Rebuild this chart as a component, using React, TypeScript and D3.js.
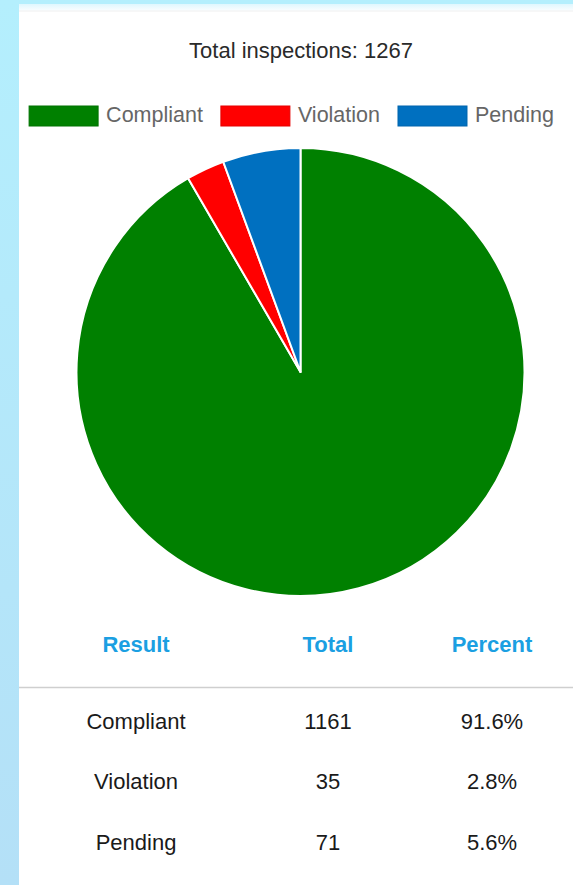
import { useEffect, useRef } from "react";
import * as d3 from "d3";

const results = ["Compliant", "Violation", "Pending"];
const totals = [1161, 35, 71];
const sliceColors = ["#008000", "#ff0000", "#0070c0"];
const tableHeaders = ["Result", "Total", "Percent"];

const W = 573;
const H = 885;
const FONT = "'Liberation Sans', Arial, sans-serif";

export default function App() {
  const ref = useRef<SVGSVGElement>(null);

  useEffect(() => {
    if (!ref.current) return;
    const svg = d3.select(ref.current);
    svg.selectAll("*").remove();

    const sum = d3.sum(totals);

    // background + card
    const defs = svg.append("defs");
    const grad = defs
      .append("linearGradient")
      .attr("id", "bg")
      .attr("x1", 0)
      .attr("y1", 0)
      .attr("x2", 0)
      .attr("y2", 1);
    grad.append("stop").attr("offset", "0%").attr("stop-color", "#b4effd");
    grad.append("stop").attr("offset", "100%").attr("stop-color", "#b4e0f7");
    const edge = defs
      .append("linearGradient")
      .attr("id", "edge")
      .attr("x1", 0)
      .attr("y1", 0)
      .attr("x2", 0)
      .attr("y2", 1);
    edge.append("stop").attr("offset", "0%").attr("stop-color", "#dff7fe");
    edge.append("stop").attr("offset", "100%").attr("stop-color", "#fbfeff");
    svg.append("rect").attr("width", W).attr("height", H).attr("fill", "url(#bg)");
    svg.append("rect").attr("x", 19).attr("y", 4).attr("width", W - 19).attr("height", H - 4).attr("fill", "#fff");
    svg.append("rect").attr("x", 19).attr("y", 4).attr("width", W - 19).attr("height", 7).attr("fill", "url(#edge)");
    svg.append("line").attr("x1", 19).attr("x2", W).attr("y1", 11).attr("y2", 11).attr("stroke", "#f0f0f0");

    // title
    svg
      .append("text")
      .attr("x", 301)
      .attr("y", 58)
      .attr("text-anchor", "middle")
      .attr("font-family", FONT)
      .attr("font-size", 22)
      .attr("fill", "#2a2a2a")
      .text(`Total inspections: ${sum}`);

    // legend
    const boxW = 69;
    const boxH = 20;
    const boxGap = 8;
    const itemGap = 18;
    const legend = svg.append("g");
    const items = results.map((r, i) => {
      const g = legend.append("g");
      g.append("rect")
        .attr("width", boxW)
        .attr("height", boxH)
        .attr("fill", sliceColors[i])
        .attr("stroke", d3.color(sliceColors[i])!.darker(0.3).toString())
        .attr("stroke-width", 1);
      const t = g
        .append("text")
        .attr("x", boxW + boxGap)
        .attr("y", 16)
        .attr("font-family", FONT)
        .attr("font-size", 21.5)
        .attr("fill", "#666")
        .text(r);
      const tw = (t.node() as SVGTextElement).getComputedTextLength();
      return { g, w: boxW + boxGap + tw };
    });
    const totalW = d3.sum(items, (d) => d.w) + itemGap * (items.length - 1);
    let lx = 291.5 - totalW / 2;
    items.forEach((it) => {
      it.g.attr("transform", `translate(${lx},106)`);
      lx += it.w + itemGap;
    });

    // pie
    const cx = 300.5;
    const cy = 372;
    const radius = 224;
    const pie = d3
      .pie<number>()
      .sort(null)
      .value((d) => d);
    const arc = d3.arc<d3.PieArcDatum<number>>().innerRadius(0).outerRadius(radius);
    svg
      .append("g")
      .attr("transform", `translate(${cx},${cy})`)
      .selectAll("path")
      .data(pie(totals))
      .enter()
      .append("path")
      .attr("d", arc)
      .attr("fill", (_, i) => sliceColors[i])
      .attr("stroke", "#fff")
      .attr("stroke-width", 2)
      .attr("stroke-linejoin", "round");

    // table
    const colX = [136, 328, 492];
    svg
      .append("g")
      .selectAll("text")
      .data(tableHeaders)
      .enter()
      .append("text")
      .attr("x", (_, i) => colX[i])
      .attr("y", 652)
      .attr("text-anchor", "middle")
      .attr("font-family", FONT)
      .attr("font-weight", "bold")
      .attr("font-size", 22)
      .attr("fill", "#1b9fe2")
      .text((d) => d);

    svg
      .append("line")
      .attr("x1", 19)
      .attr("x2", W)
      .attr("y1", 687.5)
      .attr("y2", 687.5)
      .attr("stroke", "#cfcfcf")
      .attr("stroke-width", 1.5);

    const rowY = d3.scaleLinear().domain([0, 1]).range([728.5, 789.3]);
    const rows = results.map((r, i) => [r, String(totals[i]), `${((totals[i] / sum) * 100).toFixed(1)}%`]);
    const rowG = svg
      .append("g")
      .selectAll("g")
      .data(rows)
      .enter()
      .append("g")
      .attr("transform", (_, i) => `translate(0,${rowY(i)})`);
    rowG
      .selectAll("text")
      .data((d) => d)
      .enter()
      .append("text")
      .attr("x", (_, i) => colX[i])
      .attr("text-anchor", "middle")
      .attr("font-family", FONT)
      .attr("font-size", 22)
      .attr("fill", "#1a1a1a")
      .text((d) => d);
  }, []);

  return (
    <>
      <style>{`body{margin:0}`}</style>
      <svg ref={ref} width={W} height={H} style={{ display: "block" }} />
    </>
  );
}
